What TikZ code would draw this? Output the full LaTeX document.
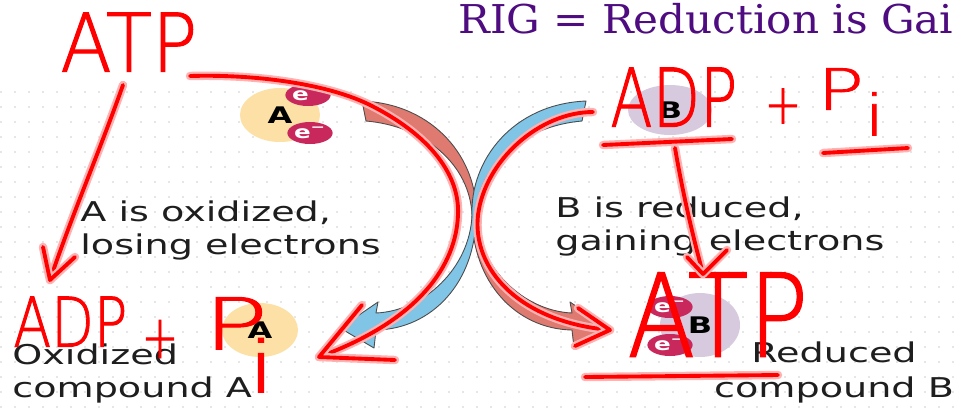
\documentclass[tikz,border=0pt]{standalone}
\usepackage{fontspec}
\usepackage{graphicx}
\setmainfont{DejaVu Sans}
\newfontfamily\slidefont[FakeStretch=1.4]{DejaVu Sans}
\newfontfamily\titlefont[FakeStretch=1.06]{DejaVu Serif}
\newfontfamily\inkfont[FakeBold=1.4]{DejaVuSans-ExtraLight.ttf}
\usetikzlibrary{positioning, calc, shapes.geometric}

\definecolor{rigpurple}{RGB}{78,12,128}
\definecolor{slidegray}{RGB}{30,30,30}
\definecolor{oxred}{RGB}{222,122,112}
\definecolor{redblue}{RGB}{128,196,230}
\definecolor{peach}{RGB}{252,224,165}
\definecolor{lilac}{RGB}{216,202,222}
\definecolor{electron}{RGB}{200,40,92}
\definecolor{dotgray}{RGB}{205,205,205}

% handwriting, squeezed into the box it takes on the slide
\newcommand{\inkfit}[3]{\resizebox*{#1}{#2}{\inkfont #3}}

\begin{document}
\begin{tikzpicture}[x=0.02cm, y=-0.02cm,
    ink/.style={draw=red, line width=2.2pt, line cap=round, line join=round,
        preaction={draw=red!30, line width=4.8pt, line cap=round, line join=round}},
    inktext/.style={text=red, inner sep=0pt},
    body/.style={inner sep=0pt, anchor=base west, align=left, text=slidegray,
        font=\slidefont\fontsize{15.5}{18.4}\selectfont},
    mol/.style={ellipse, inner sep=0pt, text=black,
        font=\slidefont\bfseries\fontsize{13}{13}\selectfont},
    elec/.style={ellipse, fill=electron, minimum width=0.68cm, minimum height=0.44cm,
        inner sep=0pt, text=white, font=\slidefont\bfseries\fontsize{10}{10}\selectfont},
    crossarrow/.style={draw=black!70, line width=0.5pt, line join=round}]

        % the slide
        \useasboundingbox (0,0) rectangle (956,407);
        \fill[white] (0,0) rectangle (956,407);
        \foreach \y in {92,107,...,407}
            \foreach \x in {1,15,...,956}
                \fill[dotgray] (\x,\y) circle (0.55pt);
        \foreach \x in {365,379,...,956}
            \fill[dotgray] (\x,77) circle (0.55pt);

        \node[anchor=base west, inner sep=0pt, text=rigpurple,
            font=\titlefont\fontsize{22.6}{24}\selectfont] (rig) at (458,33) {RIG = Reduction is Gai};

        % molecules before
        \node[mol, fill=peach, minimum width=1.6cm, minimum height=1.08cm] (molA) at (280,115) {A};
        \node[elec] (eA1) at (308,95) {e\textsuperscript{−}};
        \node[elec] (eA2) at (310,133) {e\textsuperscript{−}};
        \node[mol, fill=lilac, minimum width=1.68cm, minimum height=1.0cm] (molB) at (670,110) {B};

        % molecules after
        \node[mol, fill=peach, minimum width=1.52cm, minimum height=1.08cm] (oxA) at (260,330) {A};
        \node[mol, fill=lilac, minimum width=1.6cm, minimum height=1.28cm] (redB) at (700,325) {B};
        \node[elec] (eB1) at (670,307) {e\textsuperscript{−}};
        \node[elec] (eB2) at (670,345) {e\textsuperscript{−}};

        % captions (base is the last line)
        \node[body] (oxText) at (80,254) {A is oxidized,\\losing electrons};
        \node[body] (redText) at (555,250) {B is reduced,\\gaining electrons};
        \node[body] (oxName) at (12,397) {Oxidized\\compound A};
        \node[body, anchor=base, align=center, font=\slidefont\fontsize{15.5}{19.6}\selectfont] (redName) at (834,397) {Reduced\\compound B};

        % the two crossing arrows
        \filldraw[crossarrow, fill=oxred] (362,101) .. controls (435,104) and (478,160) .. (476,215)
            .. controls (478,268) and (524,311) .. (572,313) -- (570,302) -- (608,328) -- (574,348) -- (572,330)
            .. controls (516,329) and (472,282) .. (472,215) .. controls (470,165) and (425,126) .. (366,121) -- cycle;
        \filldraw[crossarrow, fill=redblue] (586,101) .. controls (513,104) and (470,160) .. (472,215)
            .. controls (470,268) and (424,311) .. (376,313) -- (378,302) -- (340,328) -- (374,348) -- (376,330)
            .. controls (432,329) and (476,282) .. (476,215) .. controls (478,165) and (523,126) .. (582,121) -- cycle;

        % handwritten notes
        \node[inktext, anchor=south west] (atpTop) at (60,72) {\inkfit{2.74cm}{1.18cm}{ATP}};
        \node[inktext, anchor=south west] (adpTop) at (610,127) {\inkfit{2.54cm}{1.18cm}{ADP}};
        \node[inktext] (plusTop) at (783,106) {\inkfit{0.74cm}{0.7cm}{+}};
        \node[inktext, anchor=north west] (piTop) at (817,68) {\inkfit{1.36cm}{1.34cm}{P\raisebox{-0.45em}{i}}};
        \node[inktext, anchor=south west] (adpBot) at (13,347) {\inkfit{2.28cm}{1.0cm}{ADP}};
        \node[inktext] (plusBot) at (160,339) {\inkfit{0.74cm}{0.76cm}{+}};
        \node[inktext, anchor=north west] (piBot) at (203,297) {\inkfit{1.46cm}{1.9cm}{P\kern-0.2em\raisebox{-0.6em}{i}}};
        \node[inktext, anchor=south west] (atpBot) at (627,357) {\inkfit{3.62cm}{1.68cm}{ATP}};

        % underlines
        \draw[ink] (603,145) -- (732,139);
        \draw[ink] (823,153) -- (908,148);
        \draw[ink] (585,377) -- (778,375);

        % ends of the notes' arrows
        \coordinate (atpTail) at (190,76);
        \coordinate (oxTip) at (319,357);
        \coordinate (adpTail) at (593,112);
        \coordinate (redTip) at (610,330);
        \coordinate (atpFoot) at (123,85);
        \coordinate (adpFoot) at (50,280);
        \coordinate (adpStem) at (675,148);
        \coordinate (atpHead) at (703,274);

        % ATP traces the left bow, ADP + Pi the right one
        \draw[ink] (atpTail) .. controls (260,74) and (330,85) .. (370,105)
            .. controls (430,135) and (460,175) .. (458,215) .. controls (456,265) and (420,320) .. (oxTip);
        \draw[ink] (362,305) -- (oxTip) -- (395,360);
        \draw[ink] (adpTail) .. controls (540,112) and (485,160) .. (478,215)
            .. controls (472,270) and (520,322) .. (redTip);
        \draw[ink] (578,308) -- (redTip) -- (575,346);

        % ATP -> ADP + Pi and back
        \draw[ink] (atpFoot) .. controls (100,150) and (72,215) .. (adpFoot);
        \draw[ink] (43,247) -- (adpFoot) -- (75,257);
        \draw[ink] (adpStem) .. controls (684,200) and (694,240) .. (atpHead);
        \draw[ink] (687,257) -- (atpHead) -- (727,250);
    \end{tikzpicture}
\end{document}
